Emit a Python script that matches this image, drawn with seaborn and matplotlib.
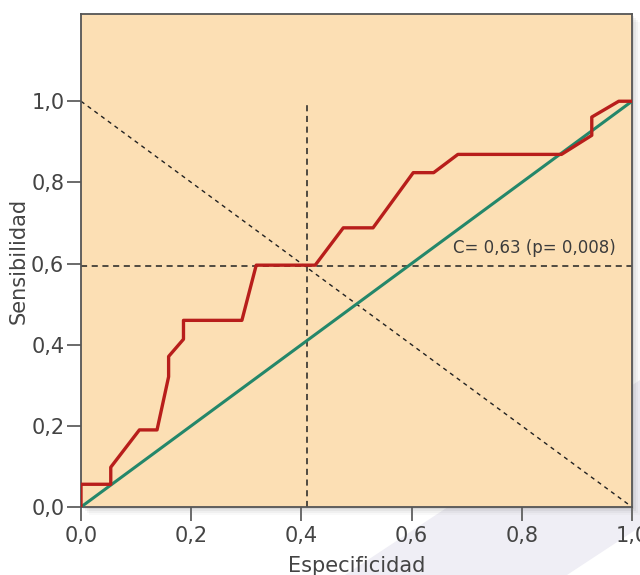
import matplotlib
matplotlib.use("Agg")
import matplotlib.pyplot as plt
import seaborn as sns
import pandas as pd
from matplotlib.patches import Polygon, Rectangle

# ROC curve points (1 - specificity on x, sensitivity on y)
roc_x = [0.0, 0.0, 0.054, 0.054, 0.106, 0.138, 0.159, 0.159, 0.186, 0.186,
         0.292, 0.318, 0.425, 0.476, 0.530, 0.603, 0.640, 0.684, 0.872,
         0.927, 0.927, 0.976, 1.0]
roc_y = [0.0, 0.056, 0.056, 0.098, 0.19, 0.19, 0.321, 0.371, 0.4135, 0.46,
         0.46, 0.596, 0.596, 0.688, 0.688, 0.824, 0.824, 0.869, 0.869,
         0.916, 0.961, 1.0, 1.0]
ref_x = [0.0, 1.0]
ref_y = [0.0, 1.0]
cut_x = 0.41
cut_y = 0.595
label_text = "C= 0,63 (p= 0,008)"
ticks = [0.0, 0.2, 0.4, 0.6, 0.8, 1.0]
tick_labels = ["0,0", "0,2", "0,4", "0,6", "0,8", "1,0"]

sns.set_style("ticks", {"axes.facecolor": "#fcdfb4"})
plt.rcParams['font.family'] = ['DejaVu Sans']

fig = plt.figure(figsize=(6.4, 5.75), dpi=100)

# decorative lavender band behind the axes
fig.patches.append(Polygon([(345 / 640, 0), (1, 1 - 380 / 575), (1, 1 - 527 / 575), (567 / 640, 0)],
                           closed=True, transform=fig.transFigure, facecolor="#efeef5",
                           edgecolor="none", zorder=0))

# soft drop shadow under the plot box
for i, a in enumerate([0.10, 0.07, 0.05, 0.03]):
    off = (i + 1) * 2
    fig.patches.append(Rectangle((81 / 640 + off / 640, 68 / 575 - off / 575), 551 / 640, 493 / 575,
                                 transform=fig.transFigure, facecolor="#555555", alpha=a,
                                 edgecolor="none", zorder=0.5))

ax = fig.add_axes([81 / 640, 68 / 575, 551 / 640, 493 / 575])
ax.set_zorder(2)

roc = pd.DataFrame({"x": roc_x, "y": roc_y})
ref = pd.DataFrame({"x": ref_x, "y": ref_y})

sns.lineplot(data=ref, x="x", y="y", color="#24876a", linewidth=2.2, sort=False,
             estimator=None, ax=ax, zorder=3)
sns.lineplot(data=roc, x="x", y="y", color="#b81e1b", linewidth=2.4, sort=False,
             estimator=None, ax=ax, zorder=4)

# dashed guide lines
ax.plot([0, 1], [1, 0], color="#222222", linestyle=(0, (3, 3)), linewidth=1.0, zorder=2)
ax.plot([cut_x, cut_x], [0, 1], color="#222222", linestyle=(0, (4, 3)), linewidth=1.1, zorder=2)
ax.axhline(cut_y, color="#222222", linestyle=(0, (4, 3)), linewidth=1.1, zorder=2)

ax.text(0.97, 0.615, label_text, ha="right", va="bottom", fontsize=12, color="#3c3c3c")

ax.set_xlim(0, 1)
ax.set_ylim(0, 1.215)
ax.set_xticks(ticks)
ax.set_xticklabels(tick_labels)
ax.set_yticks(ticks)
ax.set_yticklabels(tick_labels)
ax.tick_params(length=10, width=1.4, color="#6a6a6a", labelsize=15, labelcolor="#444444", pad=2)
ax.tick_params(axis="x", pad=4)
for s in ax.spines.values():
    s.set_color("#555555")
    s.set_linewidth(1.3)

ax.set_xlabel("Especificidad", fontsize=15, color="#444444", labelpad=7)
ax.set_ylabel("Sensibilidad", fontsize=15, color="#444444", labelpad=2)

fig.savefig("out.png", dpi=100)
